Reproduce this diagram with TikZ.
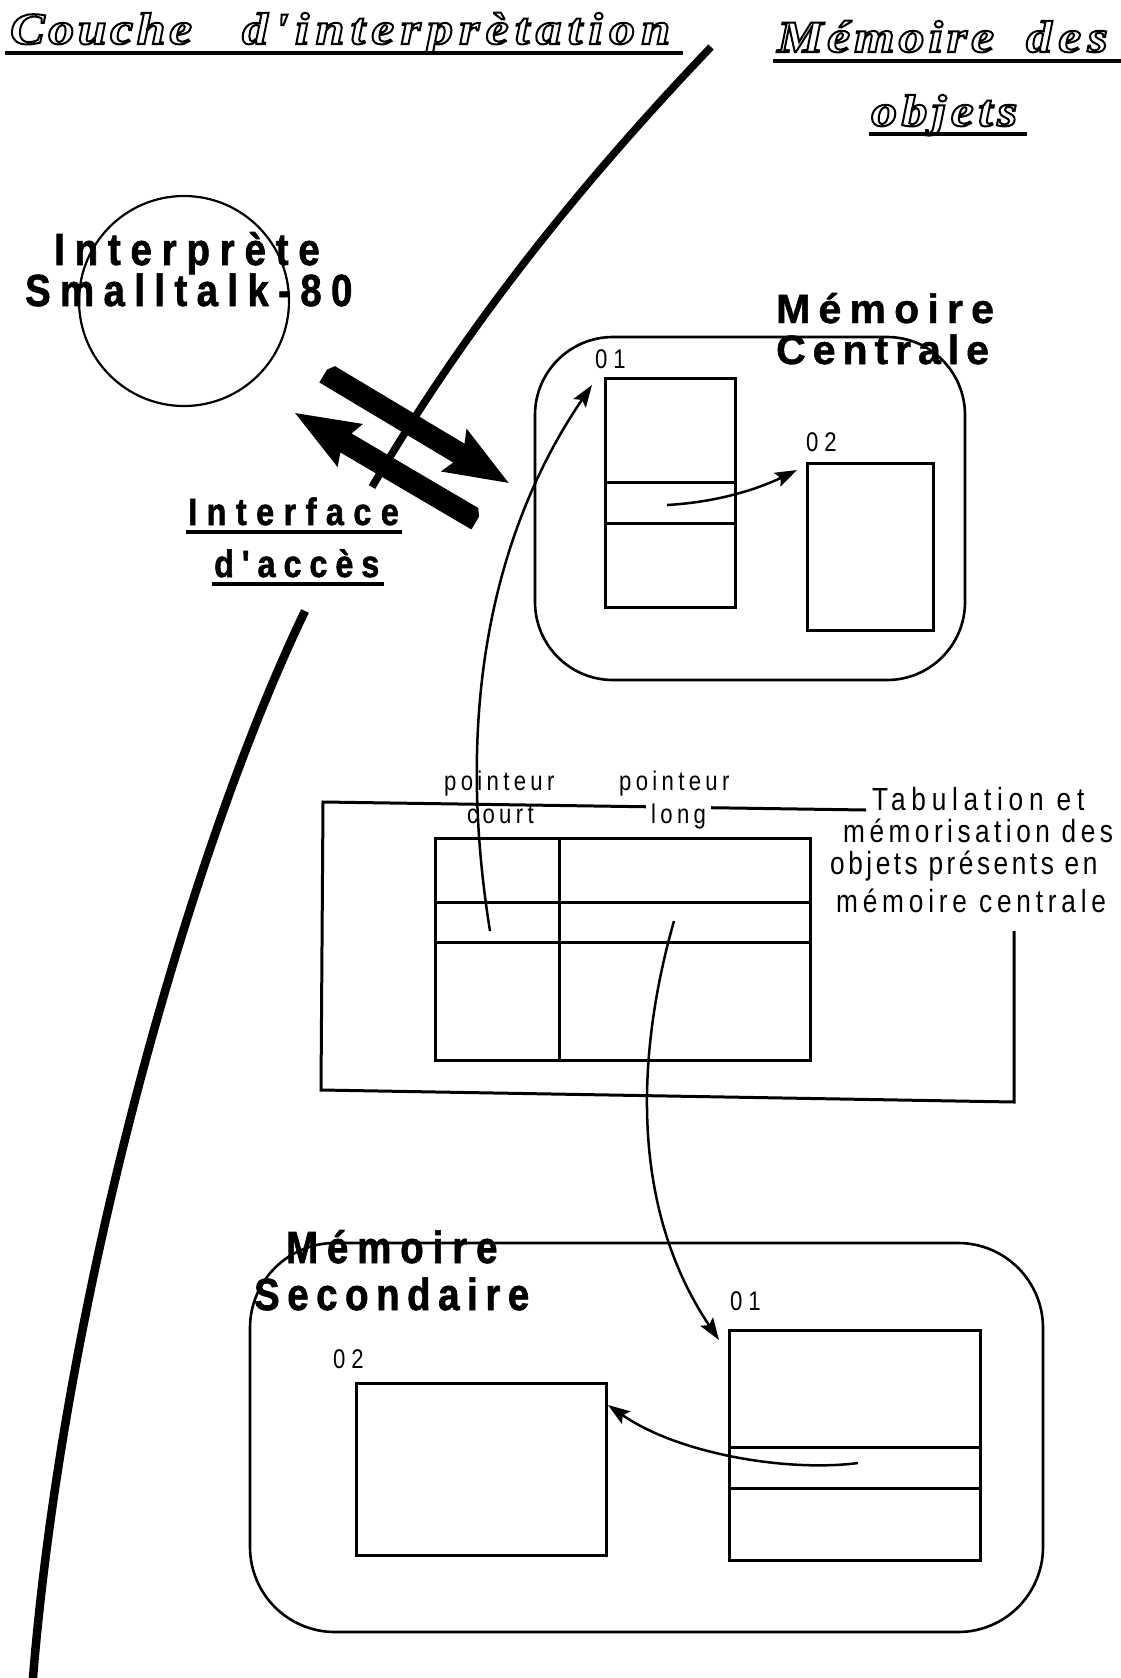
\documentclass[tikz,border=0pt]{standalone}
\usepackage{fontspec}
\usetikzlibrary{arrows.meta}
\newfontfamily\titlefont{Liberation Serif}[FakeStretch=1.15]
\newfontfamily\heavyfont{Liberation Sans}[FakeStretch=0.85, FakeBold=1.5]
\newfontfamily\boldfont{Liberation Sans}[FakeBold=1.2]
\newfontfamily\genevafont{Liberation Sans}[FakeStretch=0.82]
\newcommand\outl[1]{\special{pdf:literal direct 1 Tr 2 w}#1\special{pdf:literal direct 0 Tr}}
\tikzset{
  lbl/.style={anchor=base west, inner sep=0pt},
  ttl/.style={lbl, font=\titlefont\bfseries\itshape\fontsize{45}{54}\selectfont},
  objbox/.style={draw, line width=3pt, inner sep=0pt},
  membox/.style={draw, line width=2.6pt, inner sep=0pt},
  ptr/.style={line width=2.5pt, -{Stealth[length=22pt,width=15pt,inset=4pt]}},
  uline/.style={line width=4pt},
  border/.style={line width=7.5pt},
  smalltxt/.style={lbl, font=\genevafont\fontsize{27}{29}\selectfont},
  tabtxt/.style={lbl, font=\genevafont\fontsize{32}{34}\selectfont},
  objlbl/.style={lbl, font=\genevafont\fontsize{27}{29}\selectfont},
}
\begin{document}
\begin{tikzpicture}[x=1pt,y=-1pt]
\useasboundingbox (0,0) rectangle (1121,1678);
\begin{scope}
\clip (0,0) rectangle (1121,1678);

% titles
\node[ttl] (title1) at (10,44) {\outl{\addfontfeatures{LetterSpace=8}Couche\hspace{50pt}\addfontfeatures{LetterSpace=14}d'interprètation}};
\draw[uline] (5,53) -- (683,53);
\node[ttl] (title2) at (777,52) {\outl{\addfontfeatures{LetterSpace=9}Mémoire\hspace{32pt}\addfontfeatures{LetterSpace=14}des}};
\draw[uline] (773,61) -- (1121,61);
\node[ttl] (title3) at (871,126) {\outl{\addfontfeatures{LetterSpace=10}objets}};
\draw[uline] (869,134) -- (1027,134);

% boundary arc
\draw[border] (711,47) .. controls (568,197) and (460,337) .. (372,487);
\draw[border, line width=8.5pt] (305,611) .. controls (190,850) and (62,1300) .. (32,1690);

% interpreter
\node[draw, circle, line width=2.2pt, minimum size=210pt, inner sep=0pt] (interp) at (184,301) {};
\node[lbl, font=\heavyfont\bfseries\fontsize{45}{47}\selectfont] (interpA) at (54,265) {\addfontfeatures{LetterSpace=22}Interprète};
\node[lbl, font=\heavyfont\bfseries\fontsize{45}{47}\selectfont] (interpB) at (25,306) {\addfontfeatures{LetterSpace=21}Smalltalk-80};

% thick arrows
\begin{scope}[shift={(325,373)}, rotate=-30.9]
  \fill (5,-11) -- (156,-11) -- (150,-25) -- (214,0) -- (150,25) -- (156,11) -- (0,11) -- (0,-4) -- cycle;
\end{scope}
\begin{scope}[shift={(477,520)}, rotate=149.55]
  \fill (0,-11) -- (152,-11) -- (147,-25) -- (211,0) -- (147,25) -- (152,11) -- (5,11) -- (0,4) -- cycle;
\end{scope}

% interface label
\node[lbl, font=\heavyfont\bfseries\fontsize{38}{40}\selectfont] (ifaceA) at (188,525) {\addfontfeatures{LetterSpace=25}Interface};
\draw[line width=3.5pt] (186,532) -- (402,532);
\node[lbl, font=\heavyfont\bfseries\fontsize{38}{40}\selectfont] (ifaceB) at (214,577) {\addfontfeatures{LetterSpace=21}d'accès};
\draw[line width=3.5pt] (212,584) -- (384,584);

% central memory
\node[membox, rounded corners=78pt, minimum width=430pt, minimum height=343pt] (mc) at (750,508.5) {};
\node[lbl, font=\boldfont\bfseries\fontsize{41}{43}\selectfont] (mcA) at (776,323) {\addfontfeatures{LetterSpace=20}Mémoire};
\node[lbl, font=\boldfont\bfseries\fontsize{41}{43}\selectfont] (mcB) at (776,364) {\addfontfeatures{LetterSpace=17}Centrale};
\node[objbox, minimum width=130pt, minimum height=229pt] (co1) at (670,492.5) {};
\draw[line width=3pt] (co1.west |- 0,482) -- (co1.east |- 0,482);
\draw[line width=3pt] (co1.west |- 0,523) -- (co1.east |- 0,523);
\node[objlbl] (co1l) at (595,368) {\addfontfeatures{LetterSpace=22}01};
\node[objbox, minimum width=126pt, minimum height=167pt] (co2) at (870,546.5) {};
\node[objlbl] (co2l) at (806,451) {\addfontfeatures{LetterSpace=22}02};
\coordinate (cp) at (667,505);
\coordinate (cq) at (797,470);
\draw[ptr] (cp) .. controls (720,502) and (760,488) .. (cq);

% table
\draw[line width=3pt] (866,810) -- (323,802) -- (321,1090) -- (1014,1102) -- (1014,931);
\node[objbox, minimum width=375pt, minimum height=222pt] (tab) at (622.5,949) {};
\draw[line width=3pt] (559,838) -- (559,1060);
\draw[line width=3pt] (tab.west |- 0,902) -- (tab.east |- 0,902);
\draw[line width=3pt] (tab.west |- 0,942) -- (tab.east |- 0,942);
\node[smalltxt] (pc1) at (444,790) {\addfontfeatures{LetterSpace=16}pointeur};
\node[smalltxt] (pc2) at (467,823) {\addfontfeatures{LetterSpace=16}court};
\node[smalltxt] (pl1) at (619,790) {\addfontfeatures{LetterSpace=16}pointeur};
\node[smalltxt, fill=white, inner xsep=5pt, inner ysep=0pt] (pl2) at (646,823) {\addfontfeatures{LetterSpace=16}long};
\node[tabtxt] (tb1) at (872,810) {\addfontfeatures{LetterSpace=18}Tabulation et};
\node[tabtxt] (tb2) at (843,842) {\addfontfeatures{LetterSpace=14}mémorisation des};
\node[tabtxt] (tb3) at (830,874) {\addfontfeatures{LetterSpace=11}objets présents en};
\node[tabtxt] (tb4) at (836,912) {\addfontfeatures{LetterSpace=15}mémoire centrale};

\coordinate (sc) at (490,931);
\coordinate (sl) at (674,921);

% secondary memory
\node[membox, rounded corners=85pt, minimum width=793pt, minimum height=389pt] (ms) at (646.5,1437.5) {};
\node[lbl, font=\heavyfont\bfseries\fontsize{45}{47}\selectfont] (msA) at (286,1263) {\addfontfeatures{LetterSpace=20}Mémoire};
\node[lbl, font=\heavyfont\bfseries\fontsize{45}{47}\selectfont] (msB) at (254,1310) {\addfontfeatures{LetterSpace=17}Secondaire};
\node[objbox, minimum width=251pt, minimum height=230pt] (so1) at (854.5,1445) {};
\draw[line width=3pt] (so1.west |- 0,1447) -- (so1.east |- 0,1447);
\draw[line width=3pt] (so1.west |- 0,1488) -- (so1.east |- 0,1488);
\node[objlbl] (so1l) at (730,1310) {\addfontfeatures{LetterSpace=22}01};
\node[objbox, minimum width=250pt, minimum height=172pt] (so2) at (481,1469) {};
\node[objlbl] (so2l) at (333,1368) {\addfontfeatures{LetterSpace=22}02};
\coordinate (sp) at (858,1463);
\coordinate (sq) at (608,1405);
\draw[ptr] (sp) .. controls (790,1472) and (680,1455) .. (sq);

% long connectors
\coordinate (co1tip) at (592,385);
\coordinate (so1tip) at (719,1340);
\draw[ptr] (sc) .. controls (452,695) and (500,520) .. (co1tip);
\draw[ptr] (sl) .. controls (640,1040) and (625,1200) .. (so1tip);
\end{scope}
\end{tikzpicture}
\end{document}
